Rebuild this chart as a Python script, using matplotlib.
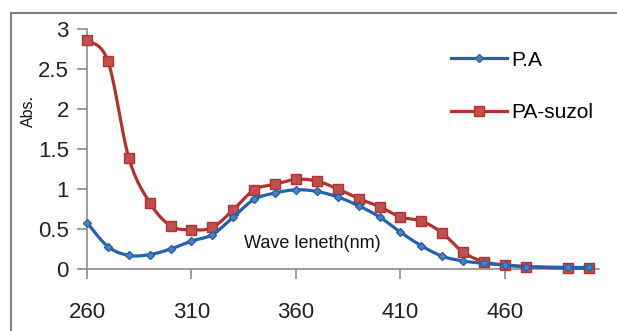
import numpy as np
import matplotlib
matplotlib.use("Agg")
import matplotlib.pyplot as plt
from matplotlib.patches import Rectangle
from matplotlib.lines import Line2D

# wavelength (nm) and absorbance
wave = [260, 270, 280, 290, 300, 310, 320, 330, 340, 350, 360, 370, 380,
        390, 400, 410, 420, 430, 440, 450, 460, 470, 490, 500]
pa = [0.58, 0.28, 0.17, 0.18, 0.25, 0.35, 0.43, 0.65, 0.87, 0.95, 0.99, 0.97,
      0.90, 0.79, 0.65, 0.46, 0.29, 0.16, 0.10, 0.07, 0.05, 0.03, 0.02, 0.02]
pa_suzol = [2.86, 2.60, 1.39, 0.83, 0.54, 0.49, 0.52, 0.74, 0.99, 1.06, 1.12,
            1.10, 1.00, 0.88, 0.78, 0.65, 0.60, 0.45, 0.21, 0.09, 0.05, 0.03,
            0.01, 0.01]
xticks = [260, 310, 360, 410, 460]
yticks = [0, 0.5, 1, 1.5, 2, 2.5, 3]
ytick_labels = ["0", "0.5", "1", "1.5", "2", "2.5", "3"]

BLUE = "#2562ad"
RED = "#b3312f"
FONT = "Liberation Sans"


def smooth(x, y, n=20):
    # Excel-like smoothed line: cubic Hermite with Catmull-Rom tangents
    x = np.asarray(x, float)
    y = np.asarray(y, float)
    xs, ys = [], []
    for i in range(len(x) - 1):
        x0, x1 = x[i], x[i + 1]
        y0, y1 = y[i], y[i + 1]
        xa, ya = (x[i - 1], y[i - 1]) if i > 0 else (x0, y0)
        xb, yb = (x[i + 2], y[i + 2]) if i + 2 < len(x) else (x1, y1)
        mx0, my0 = (x1 - xa) / 2, (y1 - ya) / 2
        mx1, my1 = (xb - x0) / 2, (yb - y0) / 2
        t = np.linspace(0, 1, n, endpoint=False)
        h00 = 2 * t**3 - 3 * t**2 + 1
        h10 = t**3 - 2 * t**2 + t
        h01 = -2 * t**3 + 3 * t**2
        h11 = t**3 - t**2
        xs.append(h00 * x0 + h10 * mx0 + h01 * x1 + h11 * mx1)
        ys.append(h00 * y0 + h10 * my0 + h01 * y1 + h11 * my1)
    xs.append([x[-1]])
    ys.append([y[-1]])
    return np.concatenate(xs), np.concatenate(ys)


fig = plt.figure(figsize=(6.17, 3.31), dpi=100)
ax = fig.add_axes([87 / 617, 1 - 269 / 331, 512 / 617, 240 / 331])

# outer chart frame
fig.patches.append(Rectangle((11 / 617, -0.1), 1.2, 1 - 13 / 331 + 0.1,
                             transform=fig.transFigure, fill=False,
                             edgecolor="#7f7f7f", linewidth=1.5))

sx, sy = smooth(wave, pa_suzol)
ax.plot(sx, sy, color=RED, lw=2.3, clip_on=False, zorder=3)
ax.plot(wave, pa_suzol, "s", color="#c0504d", mec=RED, ms=7, clip_on=False, zorder=4)
bx, by = smooth(wave, pa)
ax.plot(bx, by, color=BLUE, lw=2.3, clip_on=False, zorder=5)
ax.plot(wave, pa, "D", color="#4f81bd", mec=BLUE, ms=4, clip_on=False, zorder=6)

ax.set_xlim(260, 505)
ax.set_ylim(0, 3)
ax.set_xticks(xticks)
ax.set_yticks(yticks)
ax.set_yticklabels(ytick_labels)
for s in ["top", "right"]:
    ax.spines[s].set_visible(False)
for s in ["left", "bottom"]:
    ax.spines[s].set_color("#8c8c8c")
    ax.spines[s].set_linewidth(1.2)
ax.tick_params(axis="both", direction="out", length=7, color="#8c8c8c",
               width=1.2, labelsize=16, labelcolor="#222222")
ax.tick_params(axis="x", pad=17)
ax.tick_params(axis="y", pad=6)
for lab in ax.get_xticklabels() + ax.get_yticklabels():
    lab.set_fontfamily(FONT)

# axis title sits inside the plot area
ax.text(0.44, 0.105, "Wave leneth(nm)", transform=ax.transAxes, fontsize=13,
        family=FONT, ha="center", va="center", color="#111111")
fig.text(28 / 617, 1 - 111 / 331, "Abs.", rotation=90, fontsize=11.5,
         family=FONT, ha="center", va="center", color="#111111")

handles = [
    Line2D([], [], color=BLUE, lw=2.3, marker="D", ms=4, mfc="#4f81bd", mec=BLUE),
    Line2D([], [], color=RED, lw=2.3, marker="s", ms=7, mfc="#c0504d", mec=RED),
]
fig.legend(handles, ["P.A", "PA-suzol"], loc="upper left",
           bbox_to_anchor=(432 / 617, 1 - 32 / 331), frameon=False,
           prop={"family": FONT, "size": 15}, handlelength=2.7,
           handletextpad=0.2, labelspacing=1.6)

fig.savefig("out.png", dpi=100)
